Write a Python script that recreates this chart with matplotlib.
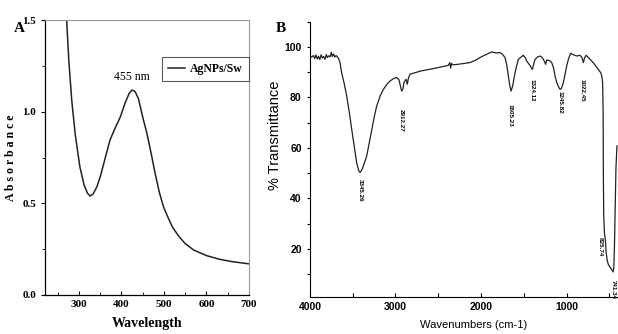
import matplotlib

matplotlib.use("Agg")
import matplotlib.pyplot as plt
from matplotlib.ticker import MultipleLocator

# --- panel A: UV-vis absorbance ---
uv_wl = [271, 276, 283, 291, 302, 312, 320, 326, 333, 342, 350, 362, 373,
         385, 397, 409, 418, 425, 432, 440, 450, 460, 470, 479, 489, 499,
         510, 520, 535, 550, 570, 600, 630, 660, 700]
uv_abs = [1.50, 1.28, 1.06, 0.88, 0.70, 0.60, 0.555, 0.54, 0.55, 0.59,
          0.645, 0.75, 0.846, 0.91, 0.97, 1.05, 1.10, 1.118, 1.11, 1.07,
          0.97, 0.88, 0.77, 0.665, 0.56, 0.48, 0.42, 0.37, 0.32, 0.28,
          0.245, 0.215, 0.195, 0.182, 0.170]
uv_label = "AgNPs/Sw"
uv_peak_text = "455 nm"
uv_peak_pos = (425, 1.155)

# --- panel B: FTIR transmittance ---
ir_wn = [4000, 3980, 3960, 3945, 3930, 3915, 3900, 3885, 3870, 3855, 3840,
         3825, 3810, 3795, 3780, 3765, 3750, 3740, 3725, 3710, 3695, 3680,
         3665, 3649, 3630, 3600, 3571, 3540, 3512, 3480, 3454, 3430, 3415,
         3390, 3360, 3337, 3310, 3278, 3250, 3220, 3180, 3142, 3100, 3064,
         3020, 2986, 2960, 2947, 2928, 2912, 2901, 2877, 2862, 2850, 2830,
         2700, 2558, 2450, 2382, 2365, 2355, 2345, 2330, 2250, 2129, 2060,
         2012, 1940, 1875, 1820, 1778, 1750, 1719, 1700, 1681, 1665, 1649,
         1630, 1602, 1580, 1563, 1530, 1505, 1480, 1466, 1430, 1400, 1385,
         1368, 1340, 1310, 1290, 1271, 1255, 1244, 1232, 1200, 1173, 1150,
         1135, 1110, 1090, 1076, 1060, 1037, 1015, 998, 975, 951, 920, 881,
         842, 820, 803, 790, 772, 740, 705, 670, 628, 600, 588, 578, 572,
         569, 565, 556, 545, 538, 525, 511, 490, 472, 455, 447, 440, 432,
         422, 410]
ir_t = [96.4, 96.0, 96.6, 95.4, 96.8, 95.2, 96.3, 95.0, 96.9, 95.6, 96.2,
        95.1, 97.0, 95.8, 96.5, 96.1, 97.9, 96.2, 97.2, 96.0, 96.6, 96.1,
        95.3, 93.8, 89.8, 85.5, 80.6, 74.0, 67.3, 60.0, 54.1, 51.0, 50.2,
        51.5, 54.5, 56.7, 61.5, 67.3, 72.0, 76.6, 80.5, 83.2, 85.2, 86.5,
        87.5, 87.9, 87.0, 85.2, 82.5, 83.5, 85.9, 87.2, 85.2, 87.5, 89.2,
        90.5, 91.4, 92.2, 92.7, 93.8, 91.6, 93.5, 92.9, 93.2, 93.8, 94.8,
        95.8, 97.0, 98.0, 97.6, 97.8, 97.1, 95.8, 93.0, 88.5, 85.0, 82.5,
        84.5, 89.8, 93.0, 95.1, 96.0, 96.7, 95.6, 94.4, 92.8, 91.1, 93.0,
        95.1, 96.0, 96.4, 96.0, 95.1, 94.0, 93.1, 94.8, 94.6, 93.8, 91.5,
        88.5, 85.5, 84.0, 83.2, 83.5, 85.9, 89.5, 92.5, 95.5, 97.5, 96.9,
        96.4, 96.7, 95.8, 93.8, 95.5, 96.7, 95.6, 94.4, 93.0, 91.1, 89.8,
        88.5, 86.0, 75.0, 48.0, 33.0, 26.0, 23.5, 19.0, 15.5, 13.8, 12.6,
        11.8, 10.8, 12.5, 20.0, 35.0, 52.0, 60.8]
ir_peak_labels = ["3345.26", "2912.27", "1605.23", "1324.12", "1245.82",
                  "1022.45", "825.74", "741.34"]
ir_peak_x = [3415, 2928, 1661, 1407, 1076, 822, 602, 450]
ir_peak_y = [47.5, 75.3, 77.3, 87.2, 82.4, 87.2, 24.5, 7.8]

SERIF = ["Liberation Serif", "DejaVu Serif"]
NARROW = ["Liberation Sans Narrow", "Liberation Sans", "DejaVu Sans"]

fig = plt.figure(figsize=(6.18, 3.34), dpi=100)

# ---------- A ----------
axA = fig.add_axes([0.0728, 0.1168, 0.3301, 0.8232])
axA.plot(uv_wl, uv_abs, color="#222222", lw=1.1, label=uv_label)
axA.set_xlim(220, 700)
axA.set_ylim(0, 1.5)
axA.xaxis.set_minor_locator(MultipleLocator(50))
axA.yaxis.set_minor_locator(MultipleLocator(0.25))
axA.tick_params(axis="x", which="both", direction="in")
axA.tick_params(axis="y", which="both", direction="out")
axA.tick_params(which="major", length=3, width=0.8)
axA.tick_params(which="minor", length=2, width=0.6)
axA.set_xticks([300, 400, 500, 600, 700])
axA.set_xticklabels(["300", "400", "500", "600", "700"],
                    fontfamily=SERIF, fontweight="bold", fontsize=8)
axA.set_yticks([0, 0.5, 1.0, 1.5])
axA.set_yticklabels(["0.0", "0.5", "1.0", "1.5"],
                    fontfamily=SERIF, fontweight="bold", fontsize=8)
for s in ("top", "right"):
    axA.spines[s].set_color("#9a9a9a")
    axA.spines[s].set_linewidth(0.8)
for s in ("left", "bottom"):
    axA.spines[s].set_linewidth(0.9)
axA.set_ylabel("A b s o r b a n c e", fontfamily=SERIF, fontweight="bold",
               fontsize=8.5, labelpad=4)
axA.set_xlabel("Wavelength", fontfamily=SERIF, fontweight="bold",
               fontsize=10, labelpad=6)
axA.text(uv_peak_pos[0], uv_peak_pos[1], uv_peak_text, ha="center",
         va="bottom", fontfamily=SERIF, fontsize=8.5)
leg = axA.legend(loc="upper left", bbox_to_anchor=(0.572, 0.866),
                 frameon=True, fancybox=False, handlelength=1.5,
                 borderpad=0.5, handletextpad=0.4, borderaxespad=0,
                 prop={"family": SERIF, "weight": "bold", "size": 8.5})
leg.get_frame().set_edgecolor("#333333")
leg.get_frame().set_linewidth(0.8)
fig.text(0.022, 0.905, "A", fontfamily=SERIF, fontweight="bold", fontsize=11)

# ---------- B ----------
axB = fig.add_axes([0.5016, 0.1117, 0.4984, 0.8233])
axB.plot(ir_wn, ir_t, color="#222222", lw=0.9)
axB.set_xlim(4000, 398)
axB.set_ylim(1, 110)
axB.set_xticks([4000, 3000, 2000, 1000])
axB.set_xticklabels(["4000", "3000", "2000", "1000"], fontfamily=NARROW,
                    fontweight="bold", fontsize=7.5)
axB.xaxis.set_minor_locator(MultipleLocator(500))
axB.set_yticks([20, 40, 60, 80, 100])
axB.set_yticklabels(["20", "40", "60", "80", "100"], fontfamily=NARROW,
                    fontweight="bold", fontsize=7.5)
axB.yaxis.set_minor_locator(MultipleLocator(10))
axB.tick_params(axis="x", which="both", direction="in", length=3, width=0.8)
axB.tick_params(axis="y", which="both", direction="out", length=2.5, width=0.8)
axB.spines["top"].set_visible(False)
axB.spines["right"].set_visible(False)
axB.set_ylabel("% Transmittance", fontfamily=["Liberation Sans"],
               fontsize=10.5)
axB.yaxis.set_label_coords(-0.091, 0.588)
axB.set_xlabel("Wavenumbers (cm-1)", fontfamily=["Liberation Sans"],
               fontsize=8)
axB.xaxis.set_label_coords(0.532, -0.085)
for txt, px, py in zip(ir_peak_labels, ir_peak_x, ir_peak_y):
    axB.text(px, py, txt, rotation=-90, ha="center", va="top",
             fontfamily=NARROW, fontsize=4.5, fontweight="bold")
fig.text(0.447, 0.905, "B", fontfamily=SERIF, fontweight="bold", fontsize=11)

fig.savefig("out.png", dpi=100)
